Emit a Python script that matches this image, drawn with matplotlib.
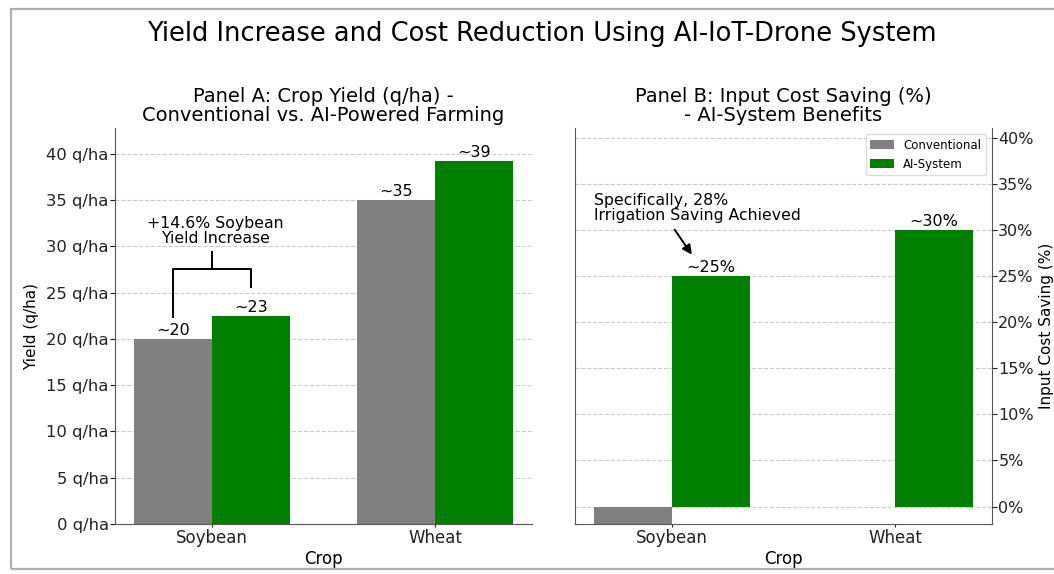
import matplotlib
matplotlib.use("Agg")
import matplotlib.pyplot as plt
from matplotlib.patches import Rectangle
import numpy as np

crops = ["Soybean", "Wheat"]
yield_conventional = [20.0, 35.0]
yield_ai = [22.5, 39.2]
yield_conv_labels = ["~20", "~35"]
yield_ai_labels = ["~23", "~39"]

saving_conventional = [-2.0, 0.0]
saving_ai = [25.0, 30.0]
saving_ai_labels = ["~25%", "~30%"]

yield_ticks = [0, 5, 10, 15, 20, 25, 30, 35, 40]
saving_ticks = [0, 5, 10, 15, 20, 25, 30, 35, 40]

GRAY = "#808080"
GREEN = "#008000"
SPINE = "#555555"

plt.rcParams["font.family"] = ["DejaVu Sans"]

fig = plt.figure(figsize=(10.54, 5.74), dpi=100)
fig.patch.set_facecolor("white")

axA = fig.add_axes([115 / 1054, 50 / 574, 417 / 1054, 396 / 574])
axB = fig.add_axes([575 / 1054, 50 / 574, 417 / 1054, 396 / 574])

x = np.arange(len(crops))
w = 0.35

# Panel A
axA.bar(x - w / 2, yield_conventional, w, color=GRAY, label="Conventional", zorder=2)
axA.bar(x + w / 2, yield_ai, w, color=GREEN, label="AI-System", zorder=2)
for xi, v, t in zip(x, yield_conventional, yield_conv_labels):
    axA.text(xi - w / 2, v + 0.1, t, ha="center", va="bottom", fontsize=11.5)
for xi, v, t in zip(x, yield_ai, yield_ai_labels):
    axA.text(xi + w / 2, v + 0.1, t, ha="center", va="bottom", fontsize=11.5)
axA.set_ylim(0, 42.8)
axA.set_yticks(yield_ticks)
axA.set_yticklabels([f"{t} q/ha" for t in yield_ticks], fontsize=11.8)
axA.set_xticks(x)
axA.set_xticklabels(crops, fontsize=12)
axA.set_xlabel("Crop", fontsize=12, labelpad=2)
axA.set_ylabel("Yield (q/ha)", fontsize=11, labelpad=5)
axA.set_title("Panel A: Crop Yield (q/ha) -\nConventional vs. AI-Powered Farming",
              fontsize=14, pad=5, linespacing=0.98)
axA.grid(axis="y", linestyle="--", color="#cccccc", linewidth=0.8, zorder=0)
axA.set_axisbelow(True)
for s in ["top", "right"]:
    axA.spines[s].set_visible(False)
for s in ["left", "bottom"]:
    axA.spines[s].set_color(SPINE)
axA.tick_params(axis="y", colors="#222222", length=3.5, pad=1)
axA.tick_params(axis="x", colors="#222222", length=2.5, pad=1)

# bracket annotation
xl, xr = -w / 2, w / 2
axA.plot([xl, xl, xr, xr], [22.35, 27.6, 27.6, 25.6], color="black", lw=1.4, zorder=3)
axA.plot([0.0, 0.0], [27.6, 29.4], color="black", lw=1.4, zorder=3)
axA.text(0.016, 31.7, "+14.6% Soybean\nYield Increase", ha="center", va="center",
         fontsize=11.3, linespacing=1.0)

# Panel B
axB.bar(x - w / 2, saving_conventional, w, color=GRAY, label="Conventional", zorder=2)
axB.bar(x + w / 2, saving_ai, w, color=GREEN, label="AI-System", zorder=2)
for xi, v, t in zip(x, saving_ai, saving_ai_labels):
    axB.text(xi + w / 2, v + 0.1, t, ha="center", va="bottom", fontsize=11.5)
axB.set_ylim(-1.9, 41.1)
axB.yaxis.tick_right()
axB.yaxis.set_label_position("right")
axB.set_yticks(saving_ticks)
axB.set_yticklabels([f"{t}%" for t in saving_ticks], fontsize=11.5)
axB.set_xticks(x)
axB.set_xticklabels(crops, fontsize=12)
axB.set_xlabel("Crop", fontsize=12, labelpad=2)
axB.set_ylabel("Input Cost Saving (%)", fontsize=11, labelpad=4)
axB.set_title("Panel B: Input Cost Saving (%)\n- AI-System Benefits",
              fontsize=14, pad=5, linespacing=0.98)
axB.grid(axis="y", linestyle="--", color="#cccccc", linewidth=0.8, zorder=0)
axB.set_axisbelow(True)
axB.spines["top"].set_visible(False)
for s in ["left", "right", "bottom"]:
    axB.spines[s].set_color(SPINE)
axB.tick_params(axis="y", colors="#222222", length=3.5, pad=1)
axB.tick_params(axis="x", colors="#222222", length=2.5, pad=1)
axB.legend(loc="upper right", fontsize=8.5, frameon=True, framealpha=1.0, edgecolor="#dddddd")

axB.text(-0.352, 32.4, "Specifically, 28%\nIrrigation Saving Achieved", ha="left", va="center",
         fontsize=11.3, linespacing=1.0)
axB.annotate("", xy=(0.096, 27.1), xytext=(0.005, 30.3),
             arrowprops=dict(arrowstyle="-|>", color="black", lw=1.4, mutation_scale=14))

fig.text(542 / 1054, 1 - 34 / 574, "Yield Increase and Cost Reduction Using AI-IoT-Drone System",
         fontsize=18.5, ha="center", va="center")

# outer frame
fig.patches.append(Rectangle((11 / 1054, 5 / 574), 1.2, 1 - 14 / 574, transform=fig.transFigure,
                             fill=False, edgecolor="#b0b0b0", linewidth=1.6, figure=fig))

fig.savefig("out.png", dpi=100, facecolor="white")
